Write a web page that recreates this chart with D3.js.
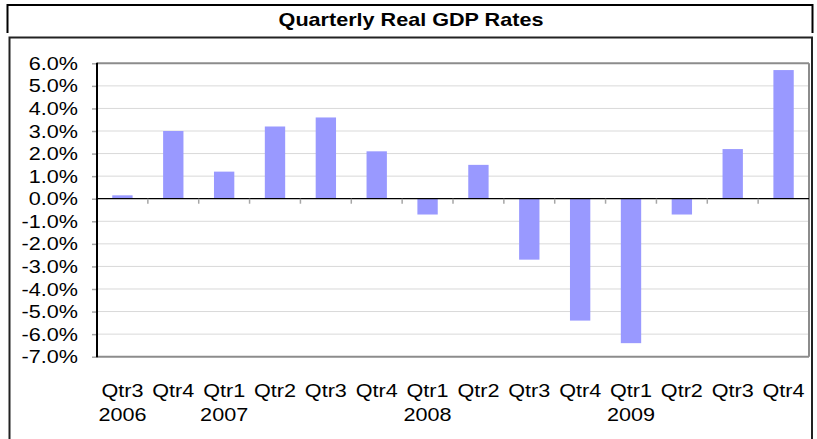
<!DOCTYPE html>
<html lang="en">
<head>
    <meta charset="UTF-8">
    <title>Quarterly Real GDP Rates</title>
    <style>
        body {
            margin: 0;
            background: #fff;
        }
        svg {
            display: block;
            font-family: "Liberation Sans", Arial, sans-serif;
        }
    </style>
    <script src="https://d3js.org/d3.v7.min.js"></script>
</head>
<body>
    <script>
        const quarters = ["Qtr3", "Qtr4", "Qtr1", "Qtr2", "Qtr3", "Qtr4", "Qtr1", "Qtr2", "Qtr3", "Qtr4", "Qtr1", "Qtr2", "Qtr3", "Qtr4"];
        const years = ["2006", "", "2007", "", "", "", "2008", "", "", "", "2009", "", "", ""];
        const gdpRates = [0.15, 3.0, 1.2, 3.2, 3.6, 2.1, -0.7, 1.5, -2.7, -5.4, -6.4, -0.7, 2.2, 5.7];
        const yTicks = [-7, -6, -5, -4, -3, -2, -1, 0, 1, 2, 3, 4, 5, 6];

        const WIDTH = 817;
        const HEIGHT = 439;
        const PLOT_LEFT = 97;
        const PLOT_RIGHT = 809;
        const PLOT_TOP = 63.3;
        const PLOT_BOTTOM = 356.7;
        const STRETCH = 1.2; // the original text is drawn a bit wider than normal
        const FONT_SIZE = 18;

        const idx = quarters.map((d, i) => i);

        const svg = d3.select("body").append("svg")
            .attr("width", WIDTH)
            .attr("height", HEIGHT);

        // title box (no bottom edge)
        svg.append("path")
            .attr("d", "M7.5,33 L7.5,5 L812.5,5 L812.5,33")
            .attr("fill", "none")
            .attr("stroke", "#000")
            .attr("stroke-width", 2);

        svg.append("text")
            .attr("transform", `translate(411,25.5) scale(${STRETCH},1)`)
            .attr("text-anchor", "middle")
            .attr("font-size", FONT_SIZE)
            .attr("font-weight", "bold")
            .text("Quarterly Real GDP Rates");

        // chart box, runs off the bottom of the picture
        svg.append("path")
            .attr("d", `M9.5,${HEIGHT + 5} L9.5,37.5 L812,37.5 L812,${HEIGHT + 5}`)
            .attr("fill", "none")
            .attr("stroke", "#222")
            .attr("stroke-width", 2);

        const x = d3.scaleBand()
            .domain(idx)
            .range([PLOT_LEFT, PLOT_RIGHT])
            .paddingInner(0.6)
            .paddingOuter(0.3);

        const xCat = d3.scaleBand()
            .domain(idx)
            .range([PLOT_LEFT, PLOT_RIGHT])
            .padding(0);

        const y = d3.scaleLinear()
            .domain([d3.min(yTicks), d3.max(yTicks)])
            .range([PLOT_BOTTOM, PLOT_TOP]);

        // gridlines
        svg.append("g")
            .selectAll("line")
            .data(yTicks.filter(d => d !== 0))
            .enter()
            .append("line")
            .attr("x1", PLOT_LEFT)
            .attr("x2", PLOT_RIGHT)
            .attr("y1", d => y(d))
            .attr("y2", d => y(d))
            .attr("stroke", d => (d === d3.min(yTicks) || d === d3.max(yTicks)) ? "#8c8c8c" : "#d9d9d9")
            .attr("stroke-width", d => (d === d3.min(yTicks) || d === d3.max(yTicks)) ? 2 : 1);

        // plot area right border
        svg.append("line")
            .attr("x1", PLOT_RIGHT)
            .attr("x2", PLOT_RIGHT)
            .attr("y1", PLOT_TOP)
            .attr("y2", PLOT_BOTTOM)
            .attr("stroke", "#8c8c8c")
            .attr("stroke-width", 2);

        // bars
        svg.append("g")
            .selectAll("rect")
            .data(gdpRates)
            .enter()
            .append("rect")
            .attr("x", (d, i) => x(i))
            .attr("width", x.bandwidth())
            .attr("y", d => y(Math.max(0, d)))
            .attr("height", d => Math.abs(y(d) - y(0)))
            .attr("fill", "#9999ff");

        // zero line with category tick marks
        svg.append("line")
            .attr("x1", PLOT_LEFT)
            .attr("x2", PLOT_RIGHT)
            .attr("y1", y(0))
            .attr("y2", y(0))
            .attr("stroke", "#000")
            .attr("stroke-width", 1.2);

        svg.append("g")
            .selectAll("line")
            .data(idx.slice(1))
            .enter()
            .append("line")
            .attr("x1", d => xCat(d))
            .attr("x2", d => xCat(d))
            .attr("y1", y(0))
            .attr("y2", y(0) + 5)
            .attr("stroke", "#a6a6a6")
            .attr("stroke-width", 1.5);

        // y axis
        const yAxis = svg.append("g")
            .attr("transform", `translate(${PLOT_LEFT},0)`)
            .call(d3.axisLeft(y)
                .tickValues(yTicks)
                .tickSize(5)
                .tickFormat(d => d.toFixed(1) + "%"));

        yAxis.select(".domain").remove();
        yAxis.selectAll(".tick line").attr("stroke", "#a6a6a6").attr("stroke-width", 1.5);
        yAxis.selectAll(".tick text")
            .attr("x", -19 / STRETCH)
            .attr("dy", "0.34em")
            .attr("transform", `scale(${STRETCH},1)`)
            .attr("font-size", FONT_SIZE)
            .attr("font-family", "Liberation Sans, Arial, sans-serif")
            .attr("fill", "#000");

        svg.append("line")
            .attr("x1", PLOT_LEFT)
            .attr("x2", PLOT_LEFT)
            .attr("y1", PLOT_TOP - 0.5)
            .attr("y2", PLOT_BOTTOM + 0.5)
            .attr("stroke", "#000")
            .attr("stroke-width", 2);

        // category labels, two lines
        const xAxis = svg.append("g")
            .attr("transform", `translate(0,${PLOT_BOTTOM})`)
            .call(d3.axisBottom(xCat).tickSize(0).tickFormat(""));

        xAxis.select(".domain").remove();
        xAxis.selectAll(".tick text").remove();

        const labels = xAxis.selectAll(".tick")
            .append("text")
            .attr("transform", `scale(${STRETCH},1)`)
            .attr("text-anchor", "middle")
            .attr("font-size", FONT_SIZE)
            .attr("font-family", "Liberation Sans, Arial, sans-serif")
            .attr("fill", "#000");

        labels.append("tspan")
            .attr("x", 0)
            .attr("y", 40)
            .text(d => quarters[d]);

        labels.append("tspan")
            .attr("x", 0)
            .attr("y", 64)
            .text(d => years[d]);
    </script>
</body>
</html>
